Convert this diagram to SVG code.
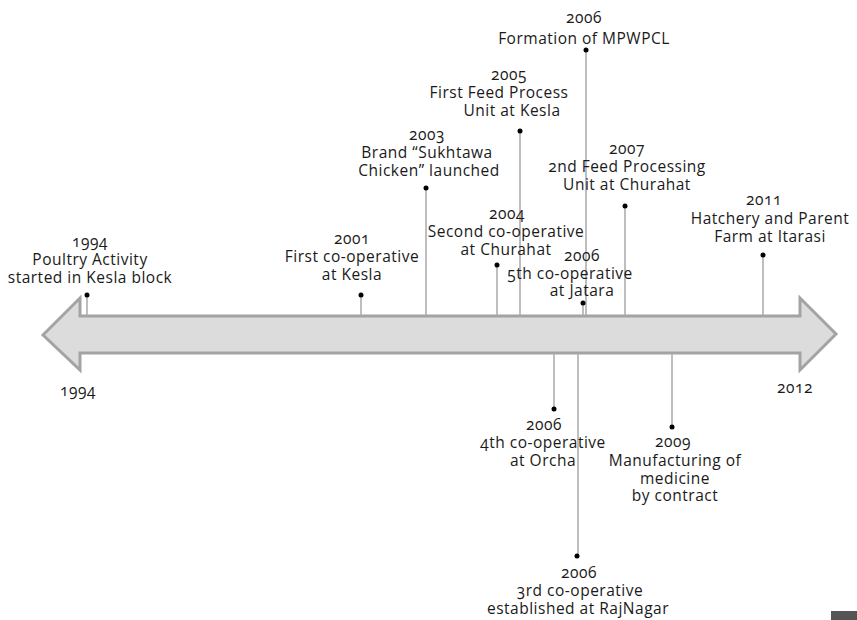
<svg xmlns="http://www.w3.org/2000/svg" width="857" height="620" viewBox="0 0 857 620">
  <style>
    text { font-family: "Open Sans", "Noto Sans", "Liberation Sans", sans-serif; font-size: 15.5px; letter-spacing: 0.5px; fill: #1a1a1a; text-anchor: middle; font-variant-numeric: oldstyle-nums; }
    .stem { stroke: #a8a8a8; stroke-width: 1.5; fill: none; }
    .dot { fill: #000; }
    .axis { fill: #dcdcdc; stroke: #a3a3a3; stroke-width: 3; stroke-linejoin: miter; }
  </style>
  <rect width="857" height="620" fill="#ffffff"/>

  <!-- double-headed timeline arrow -->
  <g id="timeline-axis">
    <path class="axis" d="M43,335 L80,298 L80,316 L800,316 L800,298 L836,334 L800,370 L800,353 L80,353 L80,370 Z"/>
    <text x="78" y="396">1994</text>
    <text x="795" y="393">2012</text>
  </g>

  <!-- stems linking each event to the axis -->
  <g id="connectors">
    <line class="stem" x1="87" y1="295" x2="87" y2="316"/>
    <line class="stem" x1="361" y1="295" x2="361" y2="316"/>
    <line class="stem" x1="426" y1="188" x2="426" y2="316"/>
    <line class="stem" x1="497" y1="265" x2="497" y2="316"/>
    <line class="stem" x1="520" y1="131" x2="520" y2="316"/>
    <line class="stem" x1="586" y1="50" x2="586" y2="316"/>
    <line class="stem" x1="583" y1="303" x2="583" y2="316"/>
    <line class="stem" x1="625" y1="206" x2="625" y2="316"/>
    <line class="stem" x1="763" y1="255" x2="763" y2="316"/>
    <line class="stem" x1="554" y1="353" x2="554" y2="409"/>
    <line class="stem" x1="578" y1="353" x2="578" y2="556"/>
    <line class="stem" x1="672" y1="353" x2="672" y2="427"/>
  </g>

  <g id="e1994">
    <circle class="dot" cx="87" cy="295" r="2.5"/>
    <text x="90" y="247">1994</text>
    <text x="90" y="265">Poultry Activity</text>
    <text x="90" y="283">started in Kesla block</text>
  </g>

  <g id="e2001">
    <circle class="dot" cx="361" cy="295" r="2.5"/>
    <text x="352" y="244">2001</text>
    <text x="352" y="262">First co-operative</text>
    <text x="352" y="280">at Kesla</text>
  </g>

  <g id="e2003">
    <circle class="dot" cx="426" cy="188" r="2.5"/>
    <text x="427" y="140">2003</text>
    <text x="427" y="158">Brand “Sukhtawa</text>
    <text x="429" y="176">Chicken” launched</text>
  </g>

  <g id="e2004">
    <circle class="dot" cx="497" cy="265" r="2.5"/>
    <text x="507" y="219">2004</text>
    <text x="506" y="237">Second co-operative</text>
    <text x="506" y="255">at Churahat</text>
  </g>

  <g id="e2005">
    <circle class="dot" cx="520" cy="131" r="2.5"/>
    <text x="509" y="80">2005</text>
    <text x="499" y="98">First Feed Process</text>
    <text x="512" y="116">Unit at Kesla</text>
  </g>

  <g id="e2006-mpwpcl">
    <circle class="dot" cx="586" cy="50" r="2.5"/>
    <text x="584" y="23">2006</text>
    <text x="584" y="44">Formation of MPWPCL</text>
  </g>

  <g id="e2006-jatara">
    <circle class="dot" cx="583" cy="303" r="2.5"/>
    <text x="582" y="261">2006</text>
    <text x="570" y="279">5th co-operative</text>
    <text x="582" y="296">at Jatara</text>
  </g>

  <g id="e2007">
    <circle class="dot" cx="625" cy="206" r="2.5"/>
    <text x="627" y="154">2007</text>
    <text x="627" y="172">2nd Feed Processing</text>
    <text x="627" y="190">Unit at Churahat</text>
  </g>

  <g id="e2011">
    <circle class="dot" cx="763" cy="255" r="2.5"/>
    <text x="764" y="205">2011</text>
    <text x="770" y="224">Hatchery and Parent</text>
    <text x="770" y="242">Farm at Itarasi</text>
  </g>

  <g id="e2006-orcha">
    <circle class="dot" cx="554" cy="409" r="2.5"/>
    <text x="544" y="430">2006</text>
    <text x="543" y="448">4th co-operative</text>
    <text x="543" y="466">at Orcha</text>
  </g>

  <g id="e2006-rajnagar">
    <circle class="dot" cx="577" cy="556" r="2.5"/>
    <text x="579" y="578">2006</text>
    <text x="580" y="596">3rd co-operative</text>
    <text x="578" y="614">established at RajNagar</text>
  </g>

  <g id="e2009">
    <circle class="dot" cx="672" cy="427" r="2.5"/>
    <text x="673" y="447">2009</text>
    <text x="675" y="466">Manufacturing of</text>
    <text x="675" y="484">medicine</text>
    <text x="675" y="501">by contract</text>
  </g>

  <rect x="831" y="611" width="26" height="9" fill="#555555"/>
</svg>
